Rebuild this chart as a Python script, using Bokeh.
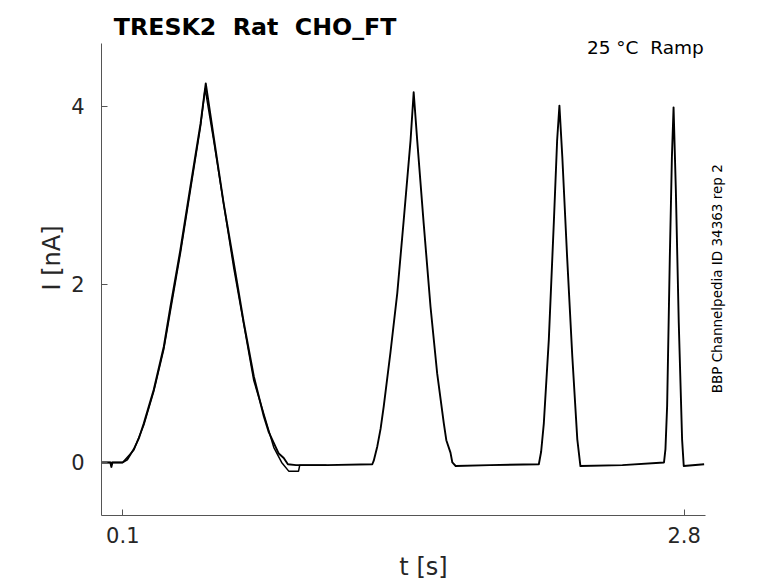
import math
from bokeh.plotting import figure
from bokeh.models import Label, FixedTicker, Range1d
from bokeh.embed import file_html
from bokeh.resources import INLINE

# ---- data ----
t_main = [0.0, 0.040, 0.045, 0.050, 0.099, 0.121, 0.153, 0.177, 0.201, 0.249, 0.297,
          0.329, 0.377, 0.425, 0.474, 0.499, 0.537, 0.585, 0.634, 0.682, 0.730,
          0.778, 0.802, 0.826, 0.850, 0.874, 0.894, 0.933, 1.080, 1.300, 1.307,
          1.324, 1.340, 1.355, 1.387, 1.420, 1.451, 1.484, 1.499, 1.516, 1.547,
          1.580, 1.612, 1.644, 1.656, 1.676, 1.685, 1.701, 1.865, 2.101, 2.112,
          2.125, 2.149, 2.173, 2.189, 2.200, 2.214, 2.237, 2.262, 2.286, 2.301, 2.503,
          2.703, 2.710, 2.718, 2.731, 2.741, 2.749, 2.760, 2.774, 2.790, 2.798, 2.896]
i_main = [0.0, 0.0, -0.05, 0.0, 0.0, 0.03, 0.15, 0.27, 0.44, 0.82, 1.30,
          1.75, 2.39, 3.10, 3.81, 4.26, 3.66, 2.91, 2.24, 1.57, 0.97,
          0.52, 0.34, 0.22, 0.10, 0.05, -0.02, -0.03, -0.03, -0.02, 0.02,
          0.18, 0.38, 0.63, 1.23, 1.90, 2.72, 3.62, 4.16, 3.62, 2.69,
          1.75, 1.00, 0.44, 0.25, 0.11, 0.0, -0.04, -0.03, -0.02, 0.12,
          0.44, 1.38, 2.69, 3.62, 4.01, 3.43, 2.31, 1.19, 0.26, -0.04, -0.03,
          0.0, 0.15, 0.63, 2.31, 3.43, 3.99, 3.06, 1.57, 0.26, -0.04, -0.02]

t_rep = [0.0, 0.099, 0.153, 0.201, 0.249, 0.297, 0.377, 0.474, 0.496, 0.537, 0.634,
         0.730, 0.826, 0.864, 0.899, 0.945, 0.951, 1.080]
i_rep = [0.0, 0.0, 0.14, 0.42, 0.80, 1.27, 2.35, 3.78, 4.20, 3.62, 2.18,
         0.92, 0.17, 0.0, -0.10, -0.10, -0.03, -0.03]

x_ticks = [0.1, 2.8]
y_ticks = [0, 2, 4]
title_text = "TRESK2 \u00a0Rat \u00a0CHO_FT"
cond_text = "25 \u00b0C \u00a0Ramp"
side_text = "BBP Channelpedia ID 34363 rep 2"

FONT = "DejaVu Sans"

p = figure(width=778, height=583, output_backend="svg", toolbar_location=None,
           x_range=Range1d(-0.0025, 3.095), y_range=Range1d(-0.596, 5.191),
           min_border_left=101, min_border_right=33, min_border_top=0, min_border_bottom=68)

p.outline_line_color = None
p.grid.visible = False
p.background_fill_color = "white"
p.border_fill_color = "white"

for ax in (p.xaxis[0], p.yaxis[0]):
    ax.axis_line_color = "#555555"
    ax.axis_line_width = 1
    ax.major_tick_line_color = "#555555"
    ax.major_tick_in = 6
    ax.major_tick_out = 0
    ax.minor_tick_line_color = None
    ax.major_label_text_font = FONT
    ax.major_label_text_font_size = "21px"
    ax.major_label_text_color = "#262626"
    ax.axis_label_text_font = FONT
    ax.axis_label_text_font_size = "24px"
    ax.axis_label_text_font_style = "normal"
    ax.axis_label_text_color = "#262626"

p.xaxis[0].ticker = FixedTicker(ticks=x_ticks)
p.yaxis[0].ticker = FixedTicker(ticks=y_ticks)
p.xaxis[0].bounds = (-0.0025, 2.903)
p.yaxis[0].bounds = (-0.596, 4.708)
p.xaxis[0].axis_label = "t [s]"
p.yaxis[0].axis_label = "I [nA]"
p.xaxis[0].major_label_standoff = 11
p.xaxis[0].axis_label_standoff = 7
p.yaxis[0].major_label_standoff = 17
p.yaxis[0].axis_label_standoff = 2

p.line(t_rep, i_rep, line_color="black", line_width=1.5)
p.line(t_main, i_main, line_color="black", line_width=1.9, line_join="round")

p.add_layout(Label(x=0.0567, y=4.888, text=title_text, text_align="left",
                   text_baseline="alphabetic", text_font=FONT, text_font_style="bold",
                   text_font_size="23.7px", text_color="black"))
p.add_layout(Label(x=2.8946, y=4.66, text=cond_text, text_align="right",
                   text_baseline="alphabetic", text_font=FONT,
                   text_font_size="18.5px", text_color="black"))
p.add_layout(Label(x=2.9557, y=2.064, text=side_text, angle=math.pi / 2,
                   text_align="center", text_baseline="middle", text_font=FONT,
                   text_font_size="13.5px", text_color="black"))

open("out.html", "w").write(file_html(p, INLINE))
